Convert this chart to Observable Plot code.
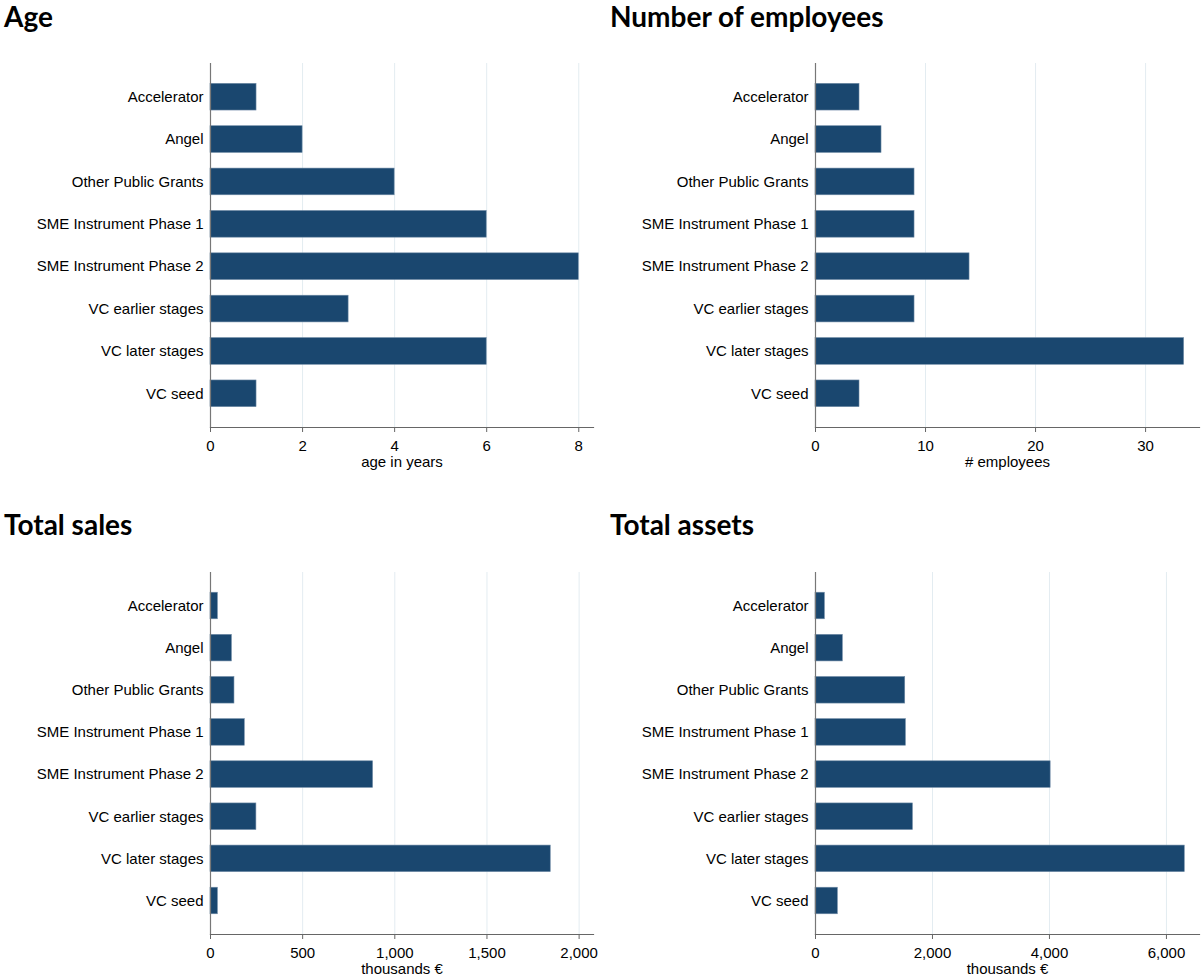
<!DOCTYPE html>
<html>
<head>
<meta charset="utf-8">
<script src="https://cdn.jsdelivr.net/npm/d3@7"></script>
<script src="https://cdn.jsdelivr.net/npm/@observablehq/plot@0.6"></script>
<style>
  html, body { margin: 0; padding: 0; background: #fff; overflow: hidden; }
  #wrap { position: relative; width: 1201px; height: 979px; }
  .title { position: absolute; z-index: 2; font-family: Lato, "Open Sans", sans-serif; font-weight: 700; font-size: 28px; line-height: 30px; color: #000; white-space: nowrap; }
  .panel { position: absolute; z-index: 1; }
</style>
</head>
<body>
<div id="wrap"></div>
<script>
const categories = ["Accelerator", "Angel", "Other Public Grants", "SME Instrument Phase 1", "SME Instrument Phase 2", "VC earlier stages", "VC later stages", "VC seed"];
const ageValues = [1, 2, 4, 6, 8, 3, 6, 1];
const employeeValues = [4, 6, 9, 9, 14, 9, 33.5, 4];
const salesValues = [40, 116, 130, 186, 882, 249, 1846, 40];
const assetsValues = [160, 467, 1534, 1545, 4020, 1665, 6313, 382];

const titles = ["Age", "Number of employees", "Total sales", "Total assets"];
const axisLabels = ["age in years", "# employees", "thousands €", "thousands €"];
const ageTicks = [0, 2, 4, 6, 8];
const employeeTicks = [0, 10, 20, 30];
const salesTicks = [0, 500, 1000, 1500, 2000];
const assetsTicks = [0, 2000, 4000, 6000];
const domainMax = [8.32, 34.9, 2078, 6565];

const panels = [
  {values: ageValues, ticks: ageTicks},
  {values: employeeValues, ticks: employeeTicks},
  {values: salesValues, ticks: salesTicks},
  {values: assetsValues, ticks: assetsTicks}
];

const layout = [
  {left: 0, top: 0, width: 600, height: 480, mt: 63, mb: 53, mr: 7, tl: 4, tt: 1},
  {left: 605, top: 0, width: 596, height: 480, mt: 63, mb: 53, mr: 2, tl: 610, tt: 1},
  {left: 0, top: 508, width: 600, height: 471, mt: 64, mb: 45, mr: 7, tl: 4, tt: 509},
  {left: 605, top: 508, width: 596, height: 471, mt: 64, mb: 45, mr: 2, tl: 610, tt: 509}
];

const wrap = document.getElementById("wrap");
const fmt = d3.format(",");
const barColor = "#1a476f";

panels.forEach((p, i) => {
  const L = layout[i];
  const data = categories.map((c, j) => ({category: c, value: p.values[j]}));

  const chart = Plot.plot({
    width: L.width,
    height: L.height,
    marginLeft: 210,
    marginRight: L.mr,
    marginTop: L.mt,
    marginBottom: L.mb,
    style: {fontFamily: "'Liberation Sans', Arial, sans-serif", fontSize: "15px", color: "#000", background: "transparent", overflow: "visible"},
    x: {domain: [0, domainMax[i]], ticks: p.ticks},
    y: {domain: categories, paddingInner: 0.37, paddingOuter: 0.48, round: false},
    marks: [
      Plot.gridX(p.ticks.filter(v => v > 0), {stroke: "#e3ecf1", strokeOpacity: 1, strokeWidth: 1}),
      Plot.barX(data, {x: "value", y: "category", fill: barColor, stroke: "#6e8aa5", strokeWidth: 0.6}),
      Plot.axisY({tickSize: 0, tickPadding: 7, label: null, fontSize: 15}),
      Plot.axisX(p.ticks, {tickSize: 5, tickPadding: 8, tickFormat: fmt, label: null, fontSize: 15, stroke: "#666"}),
      Plot.frame({anchor: "left", stroke: "#777", strokeWidth: 1.2}),
      Plot.frame({anchor: "bottom", stroke: "#666", strokeWidth: 1.2}),
      Plot.text([axisLabels[i]], {frameAnchor: "bottom", dy: 39, fontSize: 15, fill: "#000", textAnchor: "middle"})
    ]
  });
  chart.classList.add("panel");
  chart.style.left = L.left + "px";
  chart.style.top = L.top + "px";
  wrap.appendChild(chart);

  const t = document.createElement("div");
  t.className = "title";
  t.style.left = L.tl + "px";
  t.style.top = L.tt + "px";
  t.textContent = titles[i];
  wrap.appendChild(t);
});
</script>
</body>
</html>
